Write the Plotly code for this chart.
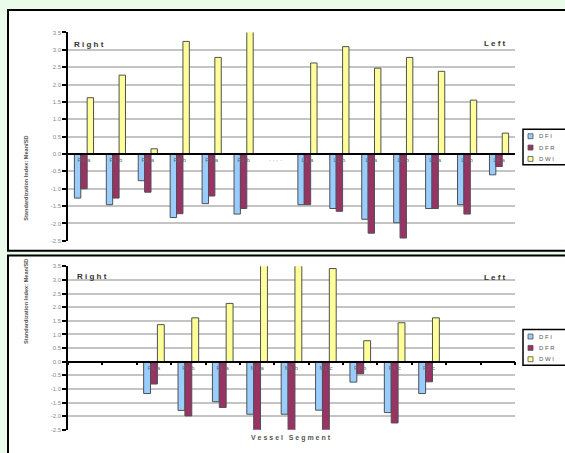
import plotly.graph_objects as go

# ---------------- data ----------------
top_segments = ["T01", "T02", "T03", "T04", "T05", "T06", "T07",
                "T08", "T09", "T10", "T11", "T12", "T13", "T14"]
top_labels = ["R1 a", "R1 b", "R2 a", "R2 b", "R3 a", "R3 b", "· · · ·",
              "L1 a", "L1 b", "L2 a", "L2 b", "L3 a", "L3 b", "L4 a"]
top_dfi = [-1.27, -1.46, -0.77, -1.83, -1.43, -1.73, None,
           -1.46, -1.57, -1.88, -1.98, -1.57, -1.46, -0.60]
top_dfr = [-1.00, -1.27, -1.10, -1.72, -1.21, -1.57, None,
           -1.46, -1.65, -2.28, -2.42, -1.57, -1.73, -0.36]
top_dwi = [1.62, 2.27, 0.15, 3.24, 2.78, 3.60, None,
           2.62, 3.09, 2.47, 2.78, 2.38, 1.55, 0.60]

bot_segments = ["B01", "B02", "B03", "B04", "B05", "B06", "B07",
                "B08", "B09", "B10", "B11", "B12", "B13"]
bot_labels = ["", "", "P1 a", "P1 b", "P2 a", "M1 a", "M1 b",
              "M1 c", "P2 b", "P1 c", "P2 c", "", ""]
bot_dfi = [None, None, -1.17, -1.79, -1.47, -1.93, -1.93,
           -1.78, -0.75, -1.87, -1.17, None, None]
bot_dfr = [None, None, -0.82, -1.99, -1.68, -2.60, -2.60,
           -2.60, -0.44, -2.25, -0.74, None, None]
bot_dwi = [None, None, 1.36, 1.61, 2.14, 3.60, 3.60,
           3.42, 0.77, 1.43, 1.61, None, None]

series_names = ["D F I", "D F R", "D W I"]
series_colors = ["#99ccff", "#993366", "#ffff99"]
y_ticks = [3.5, 3.0, 2.5, 2.0, 1.5, 1.0, 0.5, 0.0, -0.5, -1.0, -1.5, -2.0, -2.5]

W, H = 565, 453
def px(x):
    return x / W
def py(y):
    return 1 - y / H

fig = go.Figure()

for vals, name, col in zip([top_dfi, top_dfr, top_dwi], series_names, series_colors):
    fig.add_trace(go.Bar(x=top_segments, y=vals, name=name, marker_color=col,
                         marker_line=dict(color="#505050", width=1),
                         xaxis="x", yaxis="y", showlegend=False))
for vals, name, col in zip([bot_dfi, bot_dfr, bot_dwi], series_names, series_colors):
    fig.add_trace(go.Bar(x=bot_segments, y=vals, name=name, marker_color=col,
                         marker_line=dict(color="#505050", width=1),
                         xaxis="x2", yaxis="y2", showlegend=False))

font_family = "Liberation Sans, Arial, sans-serif"
ytick_text = [f"{v:.1f}" for v in y_ticks]

yax_common = dict(range=[-2.5, 3.5], tickvals=y_ticks, ticktext=ytick_text,
                  showgrid=True, gridcolor="#c4c4c4", gridwidth=1.5,
                  zeroline=False, showline=True, linecolor="black", linewidth=1.5,
                  ticks="outside", ticklen=4, tickcolor="black", tickwidth=1.5,
                  tickfont=dict(size=6, color="#8a8a8a", family=font_family),
                  fixedrange=True)

top_x0, top_x1 = px(68), px(515)
cat_font = dict(size=6, color="#666666", family=font_family)
fig.update_layout(
    width=W, height=H,
    margin=dict(l=0, r=0, t=0, b=0),
    paper_bgcolor="#ebfbe9",
    plot_bgcolor="rgba(0,0,0,0)",
    barmode="group",
    bargap=0.4,
    bargroupgap=0,
    font=dict(family=font_family),
    showlegend=False,
    xaxis=dict(domain=[top_x0, top_x1], anchor="free", position=py(153),
               tickvals=top_segments, ticktext=top_labels, tickfont=cat_font,
               showline=True, linecolor="black", linewidth=1.5, ticks="",
               showgrid=False, zeroline=False, layer="above traces", fixedrange=True),
    yaxis=dict(domain=[py(241), py(29.8)], anchor="x", **yax_common),
    xaxis2=dict(domain=[top_x0, top_x1], anchor="free", position=py(363.5),
                tickvals=bot_segments, ticktext=bot_labels, tickfont=cat_font,
                showline=True, linecolor="black", linewidth=1.5,
                ticks="outside", tickson="boundaries", ticklen=3,
                tickcolor="black", tickwidth=1.5,
                showgrid=False, zeroline=False, layer="above traces", fixedrange=True),
    yaxis2=dict(domain=[py(432.5), py(266.9)], anchor="x2", **yax_common),
)

shapes = [
    dict(type="rect", xref="paper", yref="paper", layer="below",
         x0=px(8), x1=1.05, y0=py(251), y1=py(7),
         fillcolor="white", line=dict(color="black", width=2)),
    dict(type="rect", xref="paper", yref="paper", layer="below",
         x0=px(8), x1=1.05, y0=-0.05, y1=py(256),
         fillcolor="white", line=dict(color="black", width=2)),
]

ann_font = dict(size=8, color="#333333", family=font_family)
ytitle_font = dict(size=5.6, color="#555555", family=font_family)
annotations = [
    dict(text="<b>R i g h t</b>", x=px(72), y=py(42), xanchor="left", yanchor="middle",
         xref="paper", yref="paper", showarrow=False, font=ann_font),
    dict(text="<b>L e f t</b>", x=px(508), y=py(41), xanchor="right", yanchor="middle",
         xref="paper", yref="paper", showarrow=False, font=ann_font),
    dict(text="<b>R i g h t</b>", x=px(75), y=py(277), xanchor="left", yanchor="middle",
         xref="paper", yref="paper", showarrow=False, font=ann_font),
    dict(text="<b>L e f t</b>", x=px(508), y=py(278), xanchor="right", yanchor="middle",
         xref="paper", yref="paper", showarrow=False, font=ann_font),
    dict(text="<b>Standardization Index: Mean/SD</b>", x=px(21), y=py(133),
         xref="paper", yref="paper", showarrow=False, textangle=-90, font=ytitle_font),
    dict(text="<b>Standardization Index: Mean/SD</b>", x=px(21), y=py(348),
         xref="paper", yref="paper", showarrow=False, textangle=-90, font=ytitle_font),
    dict(text="<b>V e s s e l   S e g m e n t</b>", x=px(291), y=py(447),
         xref="paper", yref="paper", showarrow=False,
         font=dict(size=7, color="#555555", family=font_family)),
]

# compact legends (box + colored squares) for both panels
for box_top in (128, 331):
    shapes.append(dict(type="rect", xref="paper", yref="paper", layer="above",
                       x0=px(523), x1=1.05, y0=py(box_top + 36), y1=py(box_top),
                       fillcolor="white", line=dict(color="black", width=1.5)))
    for i, (name, col) in enumerate(zip(series_names, series_colors)):
        yc = box_top + 7 + i * 11.5
        shapes.append(dict(type="rect", xref="paper", yref="paper", layer="above",
                           x0=px(528), x1=px(533), y0=py(yc + 2.5), y1=py(yc - 2.5),
                           fillcolor=col, line=dict(color="#505050", width=0.8)))
        annotations.append(dict(text=name, x=px(537), y=py(yc), xanchor="left",
                                yanchor="middle", xref="paper", yref="paper",
                                showarrow=False,
                                font=dict(size=6, color="#555555", family=font_family)))

fig.update_layout(shapes=shapes, annotations=annotations)

fig.write_html("out.html",
               config={"displayModeBar": False},
               post_script="document.body.style.margin='0';document.body.style.overflow='hidden';")
